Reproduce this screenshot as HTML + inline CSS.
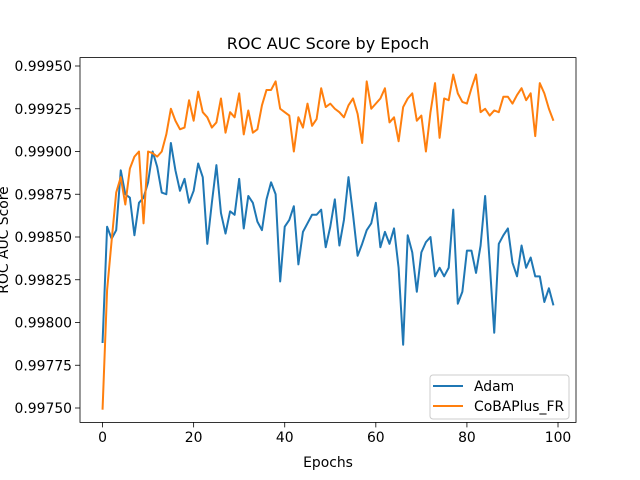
<!DOCTYPE html>
<html><head><meta charset="utf-8"><style>
body{margin:0;background:#fff;}
svg{display:block;font-family:"DejaVu Sans","Liberation Sans",sans-serif;}
</style></head><body>
<svg id="chart" width="640" height="480" viewBox="0 0 640 480">
<rect x="0" y="0" width="640" height="480" fill="#fff"/>
<text x="328" y="49" font-size="16" text-anchor="middle" fill="#000">ROC AUC Score by Epoch</text>
<g id="xticks"></g>
<g id="yticks"></g>
<g id="series"></g>
<text x="328" y="467" font-size="13.9" text-anchor="middle">Epochs</text>
<text transform="translate(8,240) rotate(-90)" font-size="13.9" text-anchor="middle">ROC AUC Score</text>
<rect x="80" y="57.6" width="496" height="364.8" fill="none" stroke="#000" stroke-width="0.8"/>
<g>
<rect x="430" y="375" width="139" height="44" rx="3" fill="#fff" fill-opacity="0.8" stroke="#ccc" stroke-width="1"/>
<line x1="433" y1="386" x2="463" y2="386" stroke="#1f77b4" stroke-width="2"/>
<text x="474" y="391" font-size="13.9">Adam</text>
<line x1="433" y1="406" x2="463" y2="406" stroke="#ff7f0e" stroke-width="2"/>
<text x="474" y="411" font-size="13.9">CoBAPlus_FR</text>
</g>
</svg>
<script>
const xTickValues = [0, 20, 40, 60, 80, 100];
const yTickValues = [0.9975, 0.99775, 0.998, 0.99825, 0.9985, 0.99875, 0.999, 0.99925, 0.9995];
const yTickLabels = ["0.99750","0.99775","0.99800","0.99825","0.99850","0.99875","0.99900","0.99925","0.99950"];
const adamValues = [0.99788,0.99856,0.99849,0.99854,0.99889,0.99875,0.99873,0.99851,0.99870,0.99873,
0.99882,0.99900,0.99891,0.99876,0.99875,0.99905,0.99889,0.99877,0.99884,0.99870,
0.99877,0.99893,0.99885,0.99846,0.99870,0.99892,0.99864,0.99852,0.99865,0.99863,
0.99884,0.99855,0.99874,0.99870,0.99859,0.99854,0.99872,0.99882,0.99875,0.99824,
0.99856,0.99860,0.99868,0.99834,0.99853,0.99858,0.99863,0.99863,0.99866,0.99844,
0.99856,0.99872,0.99845,0.99860,0.99885,0.99863,0.99839,0.99846,0.99854,0.99858,
0.99870,0.99844,0.99853,0.99846,0.99855,0.99832,0.99787,0.99851,0.99841,0.99818,
0.99841,0.99847,0.99850,0.99827,0.99832,0.99827,0.99832,0.99866,0.99811,0.99818,
0.99842,0.99842,0.99829,0.99845,0.99874,0.99835,0.99794,0.99846,0.99851,0.99855,
0.99835,0.99827,0.99845,0.99832,0.99838,0.99827,0.99827,0.99812,0.99820,0.99810];
const cobaValues = [0.99749,0.99819,0.99848,0.99876,0.99885,0.99869,0.99890,0.99897,0.99900,0.99858,
0.99900,0.99899,0.99897,0.99900,0.99910,0.99925,0.99918,0.99913,0.99914,0.99930,
0.99918,0.99935,0.99923,0.99920,0.99914,0.99917,0.99931,0.99911,0.99923,0.99920,
0.99934,0.99910,0.99924,0.99911,0.99913,0.99927,0.99936,0.99936,0.99941,0.99925,
0.99923,0.99921,0.99900,0.99920,0.99914,0.99928,0.99915,0.99919,0.99937,0.99926,
0.99928,0.99925,0.99923,0.99920,0.99927,0.99931,0.99922,0.99905,0.99941,0.99925,
0.99928,0.99931,0.99937,0.99917,0.99920,0.99906,0.99926,0.99931,0.99934,0.99918,
0.99921,0.99900,0.99923,0.99940,0.99908,0.99931,0.99930,0.99945,0.99934,0.99929,
0.99928,0.99937,0.99945,0.99923,0.99925,0.99921,0.99924,0.99923,0.99932,0.99932,
0.99928,0.99933,0.99937,0.99930,0.99934,0.99909,0.99940,0.99934,0.99925,0.99918];

const NS = "http://www.w3.org/2000/svg";
const xScale = v => 80 + (v + 4.95) / 108.9 * 496;
const yScale = v => 66 + (0.9995 - v) / 0.002 * 342;

const xg = document.getElementById('xticks');
xTickValues.forEach(v => {
  const x = xScale(v);
  const l = document.createElementNS(NS, 'line');
  l.setAttribute('x1', x); l.setAttribute('x2', x);
  l.setAttribute('y1', 422.4); l.setAttribute('y2', 427.4);
  l.setAttribute('stroke', '#000'); l.setAttribute('stroke-width', '0.8');
  
  
  xg.appendChild(l);
  const t = document.createElementNS(NS, 'text');
  t.setAttribute('x', x); t.setAttribute('y', 442);
  t.setAttribute('font-size', '13.9'); t.setAttribute('text-anchor', 'middle');
  t.textContent = v;
  
  
  xg.appendChild(t);
});
const yg = document.getElementById('yticks');
yTickValues.forEach((v, i) => {
  const y = yScale(v);
  const l = document.createElementNS(NS, 'line');
  l.setAttribute('x1', 75); l.setAttribute('x2', 80);
  l.setAttribute('y1', y); l.setAttribute('y2', y);
  l.setAttribute('stroke', '#000'); l.setAttribute('stroke-width', '0.8');
  
  
  yg.appendChild(l);
  const t = document.createElementNS(NS, 'text');
  t.setAttribute('x', 72); t.setAttribute('y', y + 5);
  t.setAttribute('font-size', '13.9'); t.setAttribute('text-anchor', 'end');
  t.textContent = yTickLabels[i];
  
  
  yg.appendChild(t);
});
const sg = document.getElementById('series');
function drawLine(values, color, name) {
  const p = document.createElementNS(NS, 'polyline');
  p.setAttribute('points', values.map((v, i) => xScale(i).toFixed(2) + ',' + yScale(v).toFixed(2)).join(' '));
  p.setAttribute('fill', 'none'); p.setAttribute('stroke', color);
  p.setAttribute('stroke-width', '2'); p.setAttribute('stroke-linejoin', 'round');
  
  
  sg.appendChild(p);
}
drawLine(adamValues, '#1f77b4', 'adam-line');
drawLine(cobaValues, '#ff7f0e', 'cobaplus-fr-line');
</script>
</body></html>
